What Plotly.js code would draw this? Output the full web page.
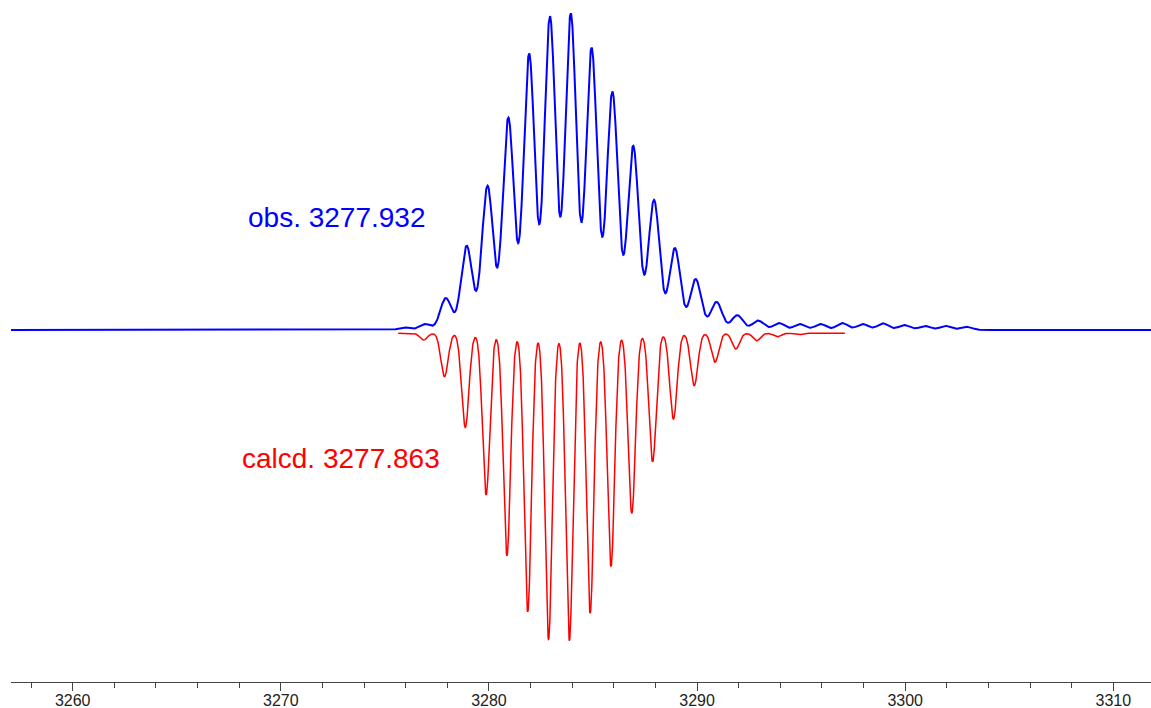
<!DOCTYPE html>
<html>
<head>
<meta charset="utf-8">
<script src="https://cdn.plot.ly/plotly-3.0.1.min.js"></script>
<style>
  html, body { margin: 0; padding: 0; background: #fff; }
  #chart { width: 1151px; height: 708px; }
</style>
</head>
<body>
<div id="chart"></div>
<script>
// Observed isotope envelope: centroid m/z and relative intensity (%)
const obsMass = [3275.93, 3276.93, 3277.93, 3278.93, 3279.93, 3280.93, 3281.93, 3282.93,
                 3283.93, 3284.93, 3285.93, 3286.93, 3287.93, 3288.93, 3289.93, 3290.93,
                 3291.93, 3292.93, 3293.93, 3294.93, 3295.93, 3296.97, 3297.95, 3298.93,
                 3299.95, 3300.95, 3301.95, 3302.95];
const obsIntensity = [0.8, 1.9, 10.1, 26.6, 45.6, 67.1, 87.3, 99.1,
                      100, 89.2, 75.3, 58.2, 41.1, 25.9, 16.1, 8.9,
                      4.7, 3.0, 2.2, 1.9, 1.9, 2.2, 1.9, 2.1,
                      1.6, 1.3, 1.3, 1.0];

// Calculated isotope pattern: centroid m/z and relative intensity (%)
const calcMass = [3276.863, 3277.863, 3278.863, 3279.863, 3280.863, 3281.863, 3282.863,
                  3283.863, 3284.863, 3285.863, 3286.863, 3287.863, 3288.863, 3289.863,
                  3290.863, 3291.863, 3292.863, 3293.863, 3294.863, 3295.863];
const calcIntensity = [2.2, 14.1, 30.6, 52.6, 72.4, 90.6, 99.6,
                       100, 91.1, 75.9, 58.6, 41.8, 27.9, 17.0,
                       9.4, 5.1, 2.4, 1.1, 0.5, 0.2];

// m/z spans covered by each trace
const obsSpan = [3257.035, 3311.81];
const calcSpan = [3275.64, 3297.1];

const tickValues = [3260, 3270, 3280, 3290, 3300, 3310];
const obsLabel = 'obs. 3277.932';
const calcLabel = 'calcd. 3277.863';

// Turn a centroid list into a continuous profile (Gaussian line shape)
function profile(mass, inten, sigma, lo, hi, step) {
  const xs = [], ys = [];
  const n = Math.round((hi - lo) / step);
  for (let i = 0; i <= n; i++) {
    const x = lo + i * step;
    let y = 0;
    for (let k = 0; k < mass.length; k++) {
      const d = (x - mass[k]) / sigma;
      if (Math.abs(d) < 9) y += inten[k] * Math.exp(-0.5 * d * d);
    }
    xs.push(x);
    ys.push(y);
  }
  return { xs, ys };
}

const obs = profile(obsMass, obsIntensity, 0.27, obsSpan[0], obsSpan[1], 0.01);
const calc = profile(calcMass, calcIntensity, 0.175, calcSpan[0], calcSpan[1], 0.01);

const font = 'Arial, "Liberation Sans", sans-serif';

const traces = [
  {
    x: obs.xs, y: obs.ys, type: 'scatter', mode: 'lines',
    line: { color: '#0000ff', width: 2 }, yaxis: 'y', hoverinfo: 'skip'
  },
  {
    x: calc.xs, y: calc.ys.map(v => -v), type: 'scatter', mode: 'lines',
    line: { color: '#ff0000', width: 1.5 }, yaxis: 'y2', hoverinfo: 'skip'
  }
];

const layout = {
  width: 1151, height: 708,
  margin: { l: 11, r: 0, t: 0, b: 26 },
  paper_bgcolor: '#fff', plot_bgcolor: '#fff',
  showlegend: false,
  xaxis: {
    range: obsSpan,
    showline: true, linecolor: '#444', linewidth: 1,
    ticks: 'outside', ticklen: 8, tickwidth: 1, tickcolor: '#444',
    ticklabelstandoff: -4,
    tickmode: 'array', tickvals: tickValues,
    minor: { dtick: 2, tick0: 3260, ticks: 'outside', ticklen: 5, tickwidth: 1, tickcolor: '#444', showgrid: false },
    showgrid: false, zeroline: false,
    tickfont: { family: font, size: 16, color: '#222' }
  },
  yaxis: { range: [-111.39, 104.43], visible: false, showgrid: false, zeroline: false },
  yaxis2: { range: [-113.43, 108.43], overlaying: 'y', visible: false, showgrid: false, zeroline: false },
  annotations: [
    {
      text: obsLabel, x: 3268.34, y: 35.66, xref: 'x', yref: 'y',
      xanchor: 'left', yanchor: 'middle', showarrow: false,
      font: { family: font, size: 28, color: '#0000ff' }
    },
    {
      text: calcLabel, x: 3268.05, y: -40.6, xref: 'x', yref: 'y',
      xanchor: 'left', yanchor: 'middle', showarrow: false,
      font: { family: font, size: 28, color: '#ff0000' }
    }
  ]
};

Plotly.newPlot('chart', traces, layout, { displayModeBar: false, staticPlot: true });
</script>
</body>
</html>
